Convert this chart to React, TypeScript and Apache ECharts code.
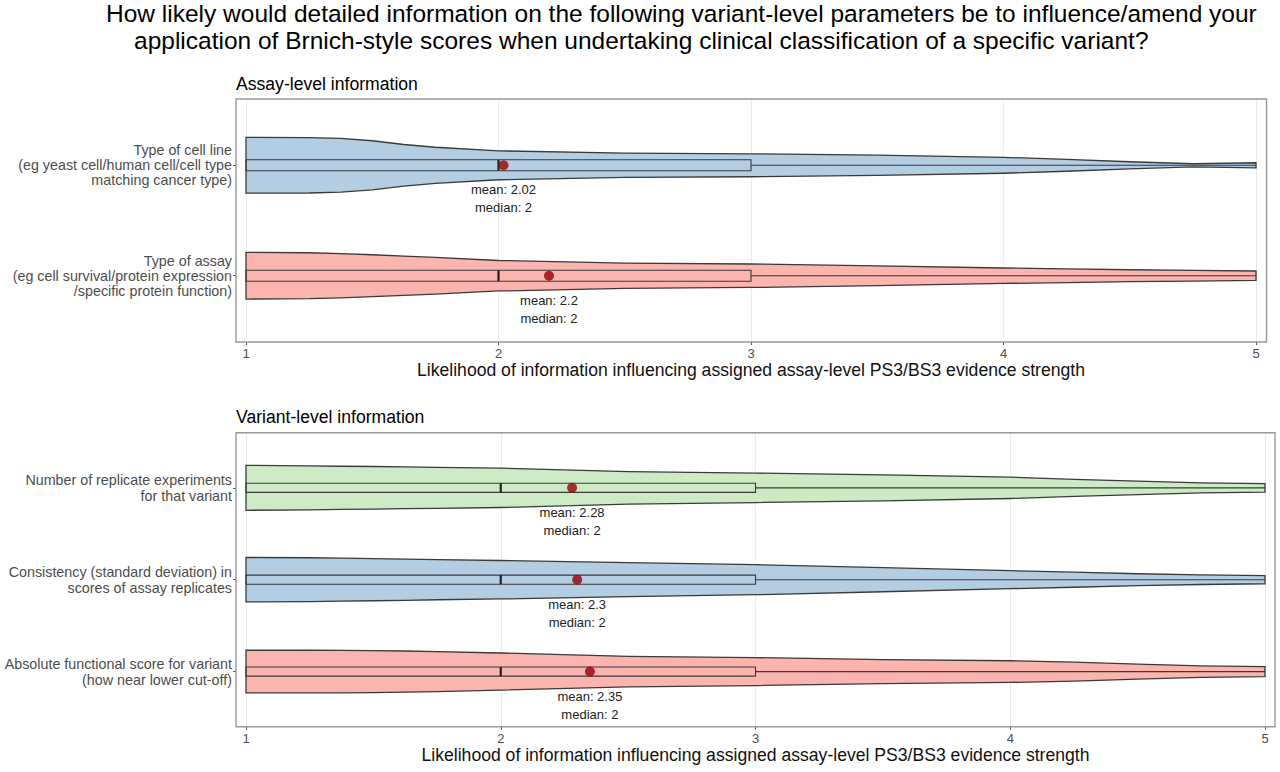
import React, { useEffect, useRef } from "react";
import * as echarts from "echarts";

const FONT = "'Liberation Sans', Arial, Helvetica, sans-serif";

const titleLine1 =
  "How likely would detailed information on the following variant-level parameters be to influence/amend your";
const titleLine2 =
  "application of Brnich-style scores when undertaking clinical classification of a specific variant?";
const panel1Title = "Assay-level information";
const panel2Title = "Variant-level information";
const xAxisTitle =
  "Likelihood of information influencing assigned assay-level PS3/BS3 evidence strength";

const xTicks = [1, 2, 3, 4, 5];
// x positions at which the violin half-widths were read
const densityX = [1, 1.25, 1.375, 1.5, 1.625, 1.75, 2, 2.5, 3, 3.5, 4, 4.25, 4.5, 4.75, 5];

// Panel 1: assay-level
const assayCategories = [
  "Type of cell line\n(eg yeast cell/human cell/cell type\nmatching cancer type)",
  "Type of assay\n(eg cell survival/protein expression\n/specific protein function)",
];
const assayMeans = [2.02, 2.2];
const assayMedians = [2, 2];
const assayQ1 = [1, 1];
const assayQ3 = [3, 3];
const assayMax = [5, 5];
const assayColors = ["#B3CDE3", "#FBB4AE"];
const assayDensity = [
  [0.253, 0.251, 0.243, 0.222, 0.188, 0.163, 0.131, 0.11, 0.104, 0.092, 0.072, 0.054, 0.032, 0.014, 0.023],
  [0.211, 0.208, 0.2, 0.19, 0.178, 0.166, 0.138, 0.115, 0.106, 0.09, 0.07, 0.062, 0.054, 0.048, 0.043],
];

// Panel 2: variant-level
const variantCategories = [
  "Number of replicate experiments\nfor that variant",
  "Consistency (standard deviation) in\nscores of assay replicates",
  "Absolute functional score for variant\n(how near lower cut-off)",
];
const variantMeans = [2.28, 2.3, 2.35];
const variantMedians = [2, 2, 2];
const variantQ1 = [1, 1, 1];
const variantQ3 = [3, 3, 3];
const variantMax = [5, 5, 5];
const variantColors = ["#CCEBC5", "#B3CDE3", "#FBB4AE"];
const variantDensity = [
  [0.245, 0.239, 0.235, 0.232, 0.227, 0.223, 0.214, 0.177, 0.16, 0.141, 0.116, 0.092, 0.074, 0.054, 0.046],
  [0.242, 0.239, 0.234, 0.229, 0.224, 0.218, 0.209, 0.185, 0.163, 0.131, 0.098, 0.082, 0.065, 0.052, 0.044],
  [0.232, 0.232, 0.231, 0.229, 0.224, 0.218, 0.202, 0.166, 0.152, 0.131, 0.118, 0.103, 0.082, 0.063, 0.054],
];

const BOX_HALF = 0.05;

function violinSeries(
  idx: number,
  density: number[][],
  means: number[],
  medians: number[],
  q1: number[],
  q3: number[],
  maxs: number[],
  colors: string[]
) {
  return {
    type: "custom",
    xAxisIndex: idx,
    yAxisIndex: idx,
    z: 2,
    data: means.map((m, i) => [m, i + 1]),
    renderItem: (params: any, api: any) => {
      const i = params.dataIndex;
      const cat = i + 1;
      const unit = Math.abs(api.size([0, 1])[1]);
      const top: number[][] = [];
      const bottom: number[][] = [];
      densityX.forEach((x, k) => {
        const p = api.coord([x, cat]);
        const h = density[i][k] * unit;
        top.push([p[0], p[1] - h]);
        bottom.unshift([p[0], p[1] + h]);
      });
      const c1 = api.coord([q1[i], cat]);
      const c3 = api.coord([q3[i], cat]);
      const cm = api.coord([medians[i], cat]);
      const cx = api.coord([maxs[i], cat]);
      const cMean = api.coord([means[i], cat]);
      const bh = BOX_HALF * unit;
      return {
        type: "group",
        children: [
          {
            type: "polygon",
            shape: { points: top.concat(bottom) },
            style: { fill: colors[i], stroke: "#3a3a3a", lineWidth: 1.3 },
          },
          {
            type: "rect",
            shape: { x: c1[0], y: c1[1] - bh, width: c3[0] - c1[0], height: 2 * bh },
            style: { fill: "none", stroke: "#3a3a3a", lineWidth: 1.1 },
          },
          {
            type: "line",
            shape: { x1: c3[0], y1: c3[1], x2: cx[0], y2: cx[1] },
            style: { stroke: "#3a3a3a", lineWidth: 1.1 },
          },
          {
            type: "line",
            shape: { x1: cm[0], y1: cm[1] - bh, x2: cm[0], y2: cm[1] + bh },
            style: { stroke: "#222", lineWidth: 2.2 },
          },
          {
            type: "text",
            style: {
              text: `mean: ${means[i]}\nmedian: ${medians[i]}`,
              x: cMean[0],
              y: cMean[1] + 15.5,
              align: "center",
              verticalAlign: "top",
              fontSize: 13,
              lineHeight: 18,
              fontFamily: FONT,
              fill: "#222",
            },
          },
        ],
      };
    },
  };
}

function meanSeries(idx: number, means: number[]) {
  return {
    type: "scatter",
    xAxisIndex: idx,
    yAxisIndex: idx,
    z: 5,
    symbolSize: 10,
    itemStyle: { color: "#990000" },
    data: means.map((m, i) => [m, i + 1]),
  };
}

function xAxisDef(idx: number) {
  return {
    type: "value",
    gridIndex: idx,
    min: 1,
    max: 5,
    interval: 1,
    name: xAxisTitle,
    nameLocation: "middle",
    nameGap: 19,
    nameTextStyle: { fontSize: 17.6, color: "#111", fontFamily: FONT },
    axisLine: { show: false },
    axisTick: { show: true, length: 3, lineStyle: { color: "#555" } },
    axisLabel: {
      margin: 5,
      color: "#4d4d4d",
      fontSize: 13,
      fontFamily: FONT,
      formatter: (v: number) => (xTicks.includes(v) ? String(v) : ""),
    },
    splitLine: { show: true, lineStyle: { color: "#ebebeb", width: 1 } },
  };
}

function yAxisDef(idx: number, cats: string[], lineHeight: number) {
  const vals = cats.map((_, i) => i + 1);
  return {
    type: "value",
    gridIndex: idx,
    min: 0.4,
    max: cats.length + 0.6,
    inverse: true,
    offset: 10,
    axisLine: { show: false },
    splitLine: { show: false },
    axisTick: { show: true, length: 3, customValues: vals, lineStyle: { color: "#555" } },
    axisLabel: {
      customValues: vals,
      margin: 4,
      color: "#4d4d4d",
      fontSize: 14.3,
      lineHeight,
      fontFamily: FONT,
      align: "right",
      formatter: (v: number) => cats[Math.round(v) - 1] ?? "",
    },
  };
}

export default function App() {
  const ref = useRef<HTMLDivElement>(null);
  useEffect(() => {
    if (!ref.current) return;
    const chart = echarts.init(ref.current, null, { renderer: "svg" });
    const option: any = {
      animation: false,
      backgroundColor: "#ffffff",
      textStyle: { fontFamily: FONT },
      title: [
        {
          text: titleLine1,
          left: 106,
          top: 1,
          padding: 0,
          textStyle: { fontSize: 24.5, fontWeight: "normal", color: "#000", fontFamily: FONT },
        },
        {
          text: titleLine2,
          left: 134,
          top: 28,
          padding: 0,
          textStyle: { fontSize: 24.5, fontWeight: "normal", color: "#000", fontFamily: FONT },
        },
        {
          text: panel1Title,
          left: 236,
          top: 75,
          padding: 0,
          textStyle: { fontSize: 17.6, fontWeight: "normal", color: "#000", fontFamily: FONT },
        },
        {
          text: panel2Title,
          left: 236,
          top: 408,
          padding: 0,
          textStyle: { fontSize: 17.6, fontWeight: "normal", color: "#000", fontFamily: FONT },
        },
      ],
      grid: [
        { left: 246, width: 1010, top: 99, height: 243 },
        { left: 246, width: 1019, top: 432.7, height: 294 },
      ],
      xAxis: [xAxisDef(0), xAxisDef(1)],
      yAxis: [yAxisDef(0, assayCategories, 15), yAxisDef(1, variantCategories, 16)],
      series: [
        violinSeries(0, assayDensity, assayMeans, assayMedians, assayQ1, assayQ3, assayMax, assayColors),
        meanSeries(0, assayMeans),
        violinSeries(1, variantDensity, variantMeans, variantMedians, variantQ1, variantQ3, variantMax, variantColors),
        meanSeries(1, variantMeans),
      ],
      graphic: [
        {
          type: "rect",
          z: 100,
          silent: true,
          shape: { x: 236, y: 99, width: 1030.5, height: 243 },
          style: { fill: "none", stroke: "#999", lineWidth: 1.4 },
        },
        {
          type: "rect",
          z: 100,
          silent: true,
          shape: { x: 236, y: 432.7, width: 1039, height: 294 },
          style: { fill: "none", stroke: "#999", lineWidth: 1.4 },
        },
      ],
    };
    chart.setOption(option);
    return () => chart.dispose();
  }, []);
  return (
    <div
      ref={ref}
      style={{ position: "fixed", left: 0, top: 0, width: 1280, height: 772, background: "#fff" }}
    />
  );
}
